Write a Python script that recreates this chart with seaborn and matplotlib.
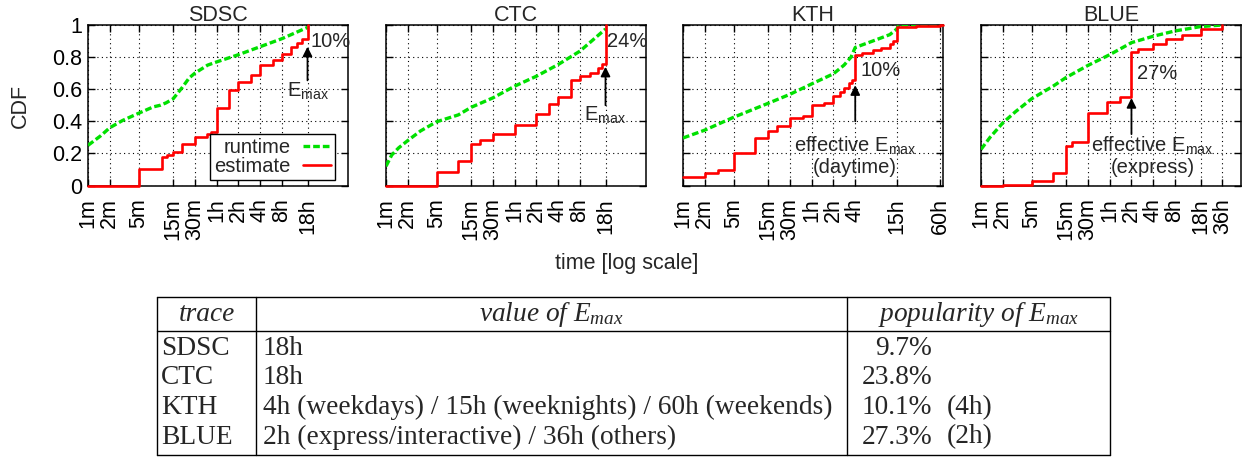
import numpy as np
import pandas as pd
import matplotlib
matplotlib.use("Agg")
import matplotlib.pyplot as plt
from matplotlib.ticker import NullLocator, FixedLocator, FixedFormatter
import seaborn as sns

# ---------------- data (time in seconds, CDF values) ----------------
traces = ["SDSC", "CTC", "KTH", "BLUE"]

sdsc_run_t = [60, 90, 120, 180, 300, 480, 600, 720, 900, 1200, 1500, 1800, 2700, 3600, 7200, 14400, 28800, 64800]
sdsc_run_c = [0.25, 0.31, 0.36, 0.405, 0.45, 0.49, 0.50, 0.515, 0.54, 0.61, 0.67, 0.70, 0.75, 0.77, 0.815, 0.865, 0.915, 0.985]
sdsc_est_t = [60, 300, 630, 735, 900, 1200, 1800, 2640, 3000, 3600, 5400, 7200, 10800, 14400, 21600, 28800, 37800, 46800, 55000, 64800]
sdsc_est_c = [0.0, 0.105, 0.175, 0.19, 0.21, 0.26, 0.30, 0.32, 0.335, 0.48, 0.595, 0.645, 0.69, 0.75, 0.78, 0.82, 0.86, 0.89, 0.91, 1.0]

ctc_run_t = [60, 72, 90, 120, 180, 300, 600, 900, 1800, 3600, 7200, 14400, 28800, 64800]
ctc_run_c = [0.12, 0.19, 0.235, 0.28, 0.34, 0.397, 0.44, 0.487, 0.546, 0.619, 0.681, 0.754, 0.8375, 0.975]
ctc_est_t = [60, 300, 600, 900, 1200, 1800, 3600, 7200, 10800, 14400, 21600, 28800, 39600, 50400, 57600, 64800]
ctc_est_c = [0.0, 0.085, 0.154, 0.26, 0.283, 0.318, 0.378, 0.448, 0.508, 0.55, 0.655, 0.68, 0.70, 0.73, 0.76, 1.0]

kth_run_t = [60, 120, 300, 900, 1800, 3600, 7200, 10080, 12600, 14400, 28800, 43200, 54000, 57600, 235000]
kth_run_c = [0.296, 0.345, 0.425, 0.512, 0.568, 0.633, 0.696, 0.75, 0.80, 0.86, 0.91, 0.94, 0.975, 1.0, 1.0]
kth_est_t = [60, 120, 180, 300, 600, 900, 1200, 1800, 2700, 3600, 5400, 7200, 9000, 10080, 11700, 13000, 14400,
             18000, 25200, 32400, 43200, 48000, 54000, 100000, 216000, 235000]
kth_est_c = [0.05, 0.08, 0.097, 0.2, 0.295, 0.34, 0.368, 0.42, 0.435, 0.5, 0.515, 0.555, 0.58, 0.607, 0.64, 0.66, 0.815,
             0.827, 0.844, 0.858, 0.879, 0.9, 0.988, 0.995, 1.0, 1.0]

blue_run_t = [60, 80, 120, 180, 300, 600, 900, 1800, 3600, 6000, 7200, 14400, 28800, 64800, 129600]
blue_run_c = [0.225, 0.30, 0.39, 0.46, 0.54, 0.62, 0.673, 0.748, 0.815, 0.87, 0.89, 0.93, 0.963, 0.99, 1.0]
blue_est_t = [60, 120, 300, 600, 900, 1080, 1800, 3300, 5000, 7200, 9000, 14400, 21600, 36000, 64800, 129600]
blue_est_c = [0.0, 0.003, 0.03, 0.076, 0.243, 0.268, 0.45, 0.518, 0.55, 0.83, 0.848, 0.88, 0.91, 0.94, 0.975, 1.0]

run_t = [sdsc_run_t, ctc_run_t, kth_run_t, blue_run_t]
run_c = [sdsc_run_c, ctc_run_c, kth_run_c, blue_run_c]
est_t = [sdsc_est_t, ctc_est_t, kth_est_t, blue_est_t]
est_c = [sdsc_est_c, ctc_est_c, kth_est_c, blue_est_c]

# tick positions / labels
ticks_std = [60, 120, 300, 900, 1800, 3600, 7200, 14400, 28800, 64800]
labels_std = ["1m", "2m", "5m", "15m", "30m", "1h", "2h", "4h", "8h", "18h"]
ticks_kth = [60, 120, 300, 900, 1800, 3600, 7200, 14400, 54000, 216000]
labels_kth = ["1m", "2m", "5m", "15m", "30m", "1h", "2h", "4h", "15h", "60h"]
ticks_blue = [60, 120, 300, 900, 1800, 3600, 7200, 14400, 28800, 64800, 129600]
labels_blue = ["1m", "2m", "5m", "15m", "30m", "1h", "2h", "4h", "8h", "18h", "36h"]
panel_ticks = [ticks_std, ticks_std, ticks_kth, ticks_blue]
panel_labels = [labels_std, labels_std, labels_kth, labels_blue]
y_ticks = [0, 0.2, 0.4, 0.6, 0.8, 1]
y_labels = ["0", "0.2", "0.4", "0.6", "0.8", "1"]

# annotations: percent label (text, x, y), arrow (x, y_tail, y_tip), E_max text lines
pct_text = ["10%", "24%", "10%", "27%"]
pct_x = [71000, 69000, 17000, 8670]
pct_y = [0.897, 0.897, 0.716, 0.70]
arrow_x = [64800, 64800, 14400, 7200]
arrow_tail = [0.655, 0.50, 0.40, 0.32]
arrow_tip = [0.865, 0.74, 0.625, 0.545]
emax_text = [r"E$_{\mathregular{max}}$", r"E$_{\mathregular{max}}$",
             r"effective E$_{\mathregular{max}}$", r"effective E$_{\mathregular{max}}$"]
emax_x = [66500, 64800, 14400, 14000]
emax_y = [0.59, 0.44, 0.25, 0.25]
sub_text = [None, None, "(daytime)", "(express)"]
sub_y = [None, None, 0.115, 0.115]

# table content
tab_header = ["trace", r"value of $E_{max}$", r"popularity of $E_{max}$"]
tab_trace = ["SDSC", "CTC", "KTH", "BLUE"]
tab_value = ["18h", "18h", "4h (weekdays) / 15h (weeknights) / 60h (weekends)",
             "2h (express/interactive) / 36h (others)"]
tab_pop = ["9.7%", "23.8%", "10.1%", "27.3%"]
tab_pop_note = ["", "", "(4h)", "(2h)"]

# ---------------- style ----------------
sns.set_style("ticks")
plt.rcParams["font.family"] = ["Liberation Sans", "DejaVu Sans"]
plt.rcParams["mathtext.fontset"] = "custom"
plt.rcParams["mathtext.it"] = "Liberation Serif:italic"
plt.rcParams["mathtext.rm"] = "Liberation Serif"

GREEN = "#00e000"
RED = "#ff0000"
FS = 15.5
AFS = 14.5

W, H = 1247, 458
fig = plt.figure(figsize=(W / 100, H / 100), dpi=100)

ax_left = [88, 386, 683, 981]
ax_top, ax_bot, ax_w = 25, 185.5, 260
XMIN, XMAX = 60, 235000

for i, name in enumerate(traces):
    ax = fig.add_axes([ax_left[i] / W, 1 - ax_bot / H, ax_w / W, (ax_bot - ax_top) / H])
    df_run = pd.DataFrame({"t": run_t[i], "cdf": run_c[i]})
    df_est = pd.DataFrame({"t": est_t[i], "cdf": est_c[i]})
    sns.lineplot(data=df_run, x="t", y="cdf", ax=ax, color=GREEN, lw=2.4,
                 estimator=None, sort=False, label="runtime", zorder=3)
    ax.lines[-1].set_linestyle((0, (2.0, 0.9)))
    sns.lineplot(data=df_est, x="t", y="cdf", ax=ax, color=RED, lw=1.9,
                 estimator=None, sort=False, label="estimate", drawstyle="steps-post", zorder=4)
    ax.lines[-1].set_clip_on(False)
    ax.set_xscale("log")
    ax.set_xlim(XMIN, XMAX)
    ax.set_ylim(0, 1)
    ax.xaxis.set_major_locator(FixedLocator(panel_ticks[i]))
    ax.xaxis.set_major_formatter(FixedFormatter(panel_labels[i]))
    ax.xaxis.set_minor_locator(NullLocator())
    ax.set_yticks(y_ticks)
    if i == 0:
        ax.set_yticklabels(y_labels)
    else:
        ax.set_yticklabels([])
    ax.tick_params(axis="both", direction="in", top=True, right=True, length=5, width=1,
                   labelsize=FS, colors="black")
    ax.tick_params(axis="x", rotation=90, pad=9)
    ax.tick_params(axis="y", pad=4)
    ax.grid(True, color="black", linestyle=(0, (1, 3)), linewidth=0.8)
    for s in ax.spines.values():
        s.set_linewidth(1.1)
        s.set_color("black")
    ax.set_xlabel("")
    ax.set_ylabel("")
    ax.set_title(name, fontsize=FS, pad=3)

    # annotations
    ax.text(pct_x[i], pct_y[i], pct_text[i], fontsize=AFS, ha="left", va="center", zorder=6)
    ax.annotate("", xy=(arrow_x[i], arrow_tip[i]), xytext=(arrow_x[i], arrow_tail[i]),
                arrowprops=dict(arrowstyle="-|>", color="black", lw=1.3, mutation_scale=14,
                                shrinkA=0, shrinkB=0), zorder=6)
    ax.text(emax_x[i], emax_y[i], emax_text[i], fontsize=AFS, ha="center", va="center", zorder=6)
    if sub_text[i]:
        ax.text(emax_x[i], sub_y[i], sub_text[i], fontsize=AFS, ha="center", va="center", zorder=6)

    if i == 0:
        leg = ax.legend(loc="lower right", bbox_to_anchor=(0.95, 0.034), markerfirst=False,
                        fontsize=AFS, frameon=True, fancybox=False, framealpha=1, edgecolor="black",
                        borderpad=0.2, labelspacing=0.0, handlelength=1.4, handletextpad=0.6,
                        borderaxespad=0)
        leg.get_frame().set_linewidth(1.0)
        leg.set_zorder(10)
    else:
        if ax.get_legend() is not None:
            ax.get_legend().remove()

fig.text(627 / W, 1 - 263 / H, "time [log scale]", fontsize=FS, ha="center", va="center")
fig.text(20 / W, 1 - 106 / H, "CDF", fontsize=FS, ha="center", va="center", rotation=90)

# ---------------- table ----------------
tax = fig.add_axes([0, 0, 1, 1], facecolor="none")
tax.set_xlim(0, W)
tax.set_ylim(H, 0)
tax.axis("off")

t_left, t_right, t_top, t_bot = 157, 1110, 297, 455
c1, c2 = 256, 847
h_sep = 331
lw_t = 1.0
tax.plot([t_left, t_right], [t_top, t_top], color="black", lw=lw_t)
tax.plot([t_left, t_right], [t_bot, t_bot], color="black", lw=lw_t)
tax.plot([t_left, t_right], [h_sep, h_sep], color="black", lw=lw_t)
for xv in [t_left, c1, c2, t_right]:
    tax.plot([xv, xv], [t_top, t_bot], color="black", lw=lw_t)

TFS = 19.7
serif = ["Liberation Serif", "DejaVu Serif"]
base0 = 321
tax.text((t_left + c1) / 2, base0, tab_header[0], fontsize=TFS, family=serif, style="italic",
         ha="center", va="baseline")
tax.text((c1 + c2) / 2, base0, tab_header[1], fontsize=TFS, family=serif, style="italic",
         ha="center", va="baseline")
tax.text((c2 + t_right) / 2, base0, tab_header[2], fontsize=TFS, family=serif, style="italic",
         ha="center", va="baseline")
for r in range(4):
    yb = 355 + r * 29.5
    tax.text(161, yb, tab_trace[r], fontsize=TFS, family=serif, ha="left", va="baseline")
    tax.text(263, yb, tab_value[r], fontsize=TFS, family=serif, ha="left", va="baseline")
    tax.text(932, yb, tab_pop[r], fontsize=TFS, family=serif, ha="right", va="baseline")
    if tab_pop_note[r]:
        tax.text(947, yb, tab_pop_note[r], fontsize=TFS, family=serif, ha="left", va="baseline")

fig.savefig("out.png", dpi=100)
